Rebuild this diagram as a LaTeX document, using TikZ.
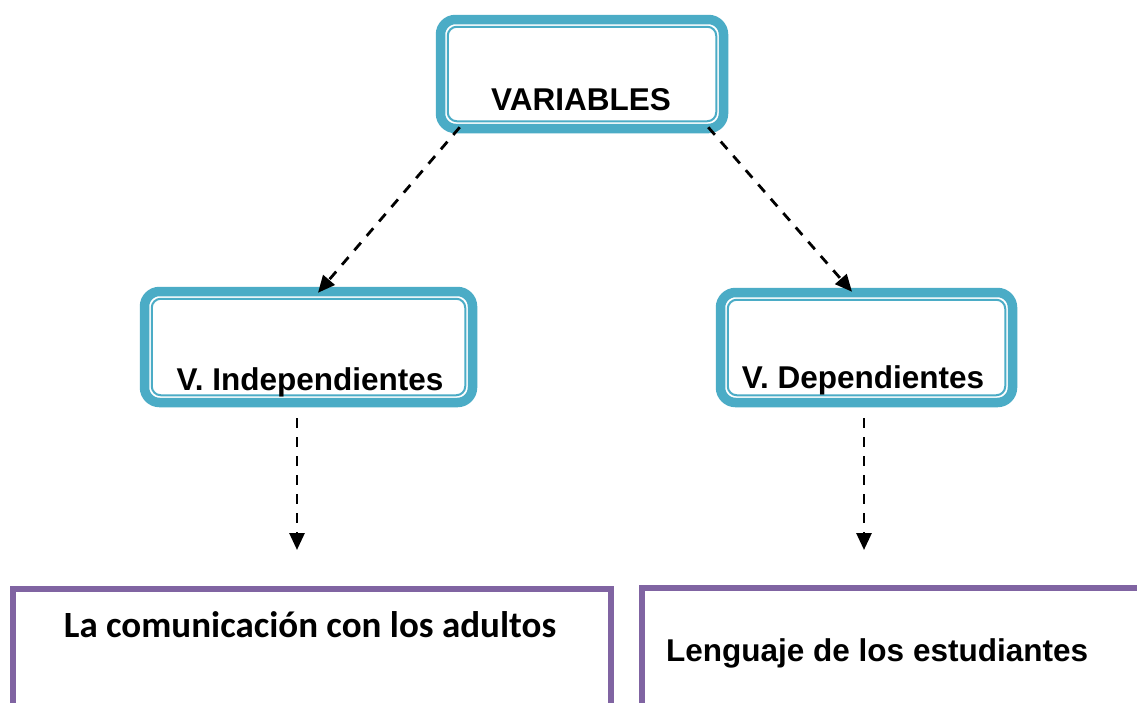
\documentclass[tikz,border=0pt]{standalone}
\usepackage{fontspec}
\setmainfont{Liberation Sans}
\newfontfamily\calibri{Carlito}
\usetikzlibrary{arrows.meta,calc}
\definecolor{tealc}{HTML}{4BACC6}
\definecolor{purplec}{HTML}{8064A2}
\tikzset{
  vbox/.style={draw=tealc, line width=9.5pt, rounded corners=15pt, inner sep=0pt},
  innerline/.style={draw=tealc, line width=2pt, rounded corners=9pt},
  pbox/.style={draw=purplec, line width=5.5pt, inner sep=0pt},
  dasharrow/.style={line width=2.8pt, dash pattern=on 10pt off 9pt, -{Triangle[length=17pt,width=15pt]}},
  arialtext/.style={font=\bfseries\fontsize{31.5}{36}\selectfont, inner sep=0pt, anchor=base},
  calibritext/.style={font=\calibri\bfseries\fontsize{37}{42}\selectfont, inner sep=0pt, anchor=base}
}
\begin{document}
\begin{tikzpicture}[x=1pt,y=-1pt]
\useasboundingbox (0,0) rectangle (1137,702);
\fill[white] (0,0) rectangle (1137,702);
\clip (0,0) rectangle (1137,702);
% boxes (anchors lie on the outer edge of the thick stroke)
\node[vbox, minimum width=283pt, minimum height=109pt] (var) at (582,74) {};
\draw[innerline] ($(var.north west)+(12,12)$) rectangle ($(var.south east)+(-12,-12)$);
\node[vbox, minimum width=328pt, minimum height=111pt] (vi) at (308.5,347) {};
\draw[innerline] ($(vi.north west)+(12,12)$) rectangle ($(vi.south east)+(-12,-12)$);
\node[vbox, minimum width=292pt, minimum height=110pt] (vd) at (866.5,347.5) {};
\draw[innerline] ($(vd.north west)+(12,12)$) rectangle ($(vd.south east)+(-12,-12)$);
\node[pbox, minimum width=598pt, minimum height=171pt] (lb) at (312,674.5) {};
\node[pbox, minimum width=558pt, minimum height=171pt] (rb) at (921,673.5) {};
% texts
\node[arialtext] (tvar) at (581,110) {VARIABLES};
\node[arialtext] (tvi) at (310,390) {V. Independientes};
\node[arialtext] (tvd) at (863,388) {V. Dependientes};
\node[calibritext] (tlb) at (310,637) {La comunicación con los adultos};
\node[arialtext, anchor=base west] (trb) at (666,661) {Lenguaje de los estudiantes};
% connectors
\coordinate (le) at (297,550);
\coordinate (re) at (864,550);
\draw[dasharrow] ($(var.south west)+(24,-6)$) -- ($(vi.north)+(9.5,6)$);
\draw[dasharrow] ($(var.south east)+(-20,-6)$) -- ($(vd.north)+(-14.5,4)$);
\draw[dasharrow] ($(vi.south)+(-11.5,11)$) -- (le);
\draw[dasharrow] ($(vd.south)+(-2.5,11)$) -- (re);
\end{tikzpicture}
\end{document}
